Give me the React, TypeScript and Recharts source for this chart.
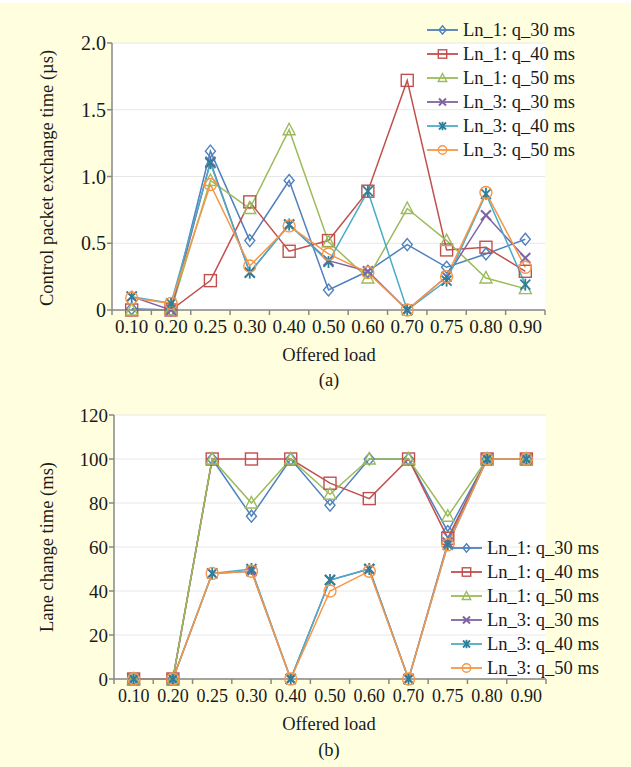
import { LineChart, Line, XAxis, YAxis, CartesianGrid } from 'recharts';

const LOADS = ['0.10', '0.20', '0.25', '0.30', '0.40', '0.50', '0.60', '0.70', '0.75', '0.80', '0.90'];

const SERIES_NAMES = ['Ln_1: q_30 ms', 'Ln_1: q_40 ms', 'Ln_1: q_50 ms', 'Ln_3: q_30 ms', 'Ln_3: q_40 ms', 'Ln_3: q_50 ms'];
const COLORS = ['#4F81BD', '#C0504D', '#9BBB59', '#8064A2', '#4BACC6', '#F79646'];
const MARKERS = ['diamond', 'square', 'triangle', 'cross', 'star', 'circle'];

// (a) control packet exchange time (µs)
const ctrlLn1Q30 = [0.01, 0.0, 1.19, 0.52, 0.97, 0.15, 0.29, 0.49, 0.32, 0.42, 0.53];
const ctrlLn1Q40 = [0.0, 0.0, 0.22, 0.81, 0.44, 0.52, 0.89, 1.72, 0.45, 0.47, 0.29];
const ctrlLn1Q50 = [0.0, 0.0, 0.97, 0.76, 1.35, 0.51, 0.24, 0.76, 0.52, 0.24, 0.16];
const ctrlLn3Q30 = [0.1, 0.0, 1.11, 0.28, 0.64, 0.37, 0.29, 0.0, 0.25, 0.71, 0.39];
const ctrlLn3Q40 = [0.1, 0.05, 1.1, 0.28, 0.64, 0.36, 0.89, 0.0, 0.22, 0.87, 0.19];
const ctrlLn3Q50 = [0.09, 0.05, 0.94, 0.33, 0.63, 0.42, 0.28, 0.0, 0.25, 0.88, 0.32];
const CTRL_TICKS = [0, 0.5, 1.0, 1.5, 2.0];

// (b) lane change time (ms)
const laneLn1Q30 = [0, 0, 100, 74, 100, 79, 100, 100, 67, 100, 100];
const laneLn1Q40 = [0, 0, 100, 100, 100, 89, 82, 100, 64, 100, 100];
const laneLn1Q50 = [0, 0, 100, 80, 100, 84, 100, 100, 74, 100, 100];
const laneLn3Q30 = [0, 0, 48, 49, 0, 45, 50, 0, 62, 100, 100];
const laneLn3Q40 = [0, 0, 48, 50, 0, 45, 50, 0, 61, 100, 100];
const laneLn3Q50 = [0, 0, 48, 49, 0, 40, 49, 0, 61, 100, 100];
const LANE_TICKS = [0, 20, 40, 60, 80, 100, 120];

const FONT = '"Liberation Serif", "Times New Roman", serif';
const AXIS_COLOR = '#888888';

function buildRows(series: number[][]) {
  return LOADS.map((load, i) => {
    const row: Record<string, number | string> = { i, load };
    series.forEach((s, k) => {
      row['s' + k] = s[i];
    });
    return row;
  });
}

const ctrlData = buildRows([ctrlLn1Q30, ctrlLn1Q40, ctrlLn1Q50, ctrlLn3Q30, ctrlLn3Q40, ctrlLn3Q50]);
const laneData = buildRows([laneLn1Q30, laneLn1Q40, laneLn1Q50, laneLn3Q30, laneLn3Q40, laneLn3Q50]);

// category centres get labels, band edges get tick marks
const X_TICKS = LOADS.flatMap((_, i) => [i - 0.5, i]).concat(LOADS.length - 0.5);

function Marker({ type, cx, cy, color, s = 1 }: { type: string; cx: number; cy: number; color: string; s?: number }) {
  const common = { stroke: color, strokeWidth: 1.4, fill: 'none' };
  if (type === 'diamond') {
    return <path d={`M${cx},${cy - 6 * s} L${cx + 5 * s},${cy} L${cx},${cy + 6 * s} L${cx - 5 * s},${cy} Z`} {...common} />;
  }
  if (type === 'square') {
    return <rect x={cx - 6 * s} y={cy - 6 * s} width={12 * s} height={12 * s} {...common} />;
  }
  if (type === 'triangle') {
    return <path d={`M${cx},${cy - 6.5 * s} L${cx + 6 * s},${cy + 5 * s} L${cx - 6 * s},${cy + 5 * s} Z`} {...common} />;
  }
  if (type === 'cross') {
    return (
      <g {...common} strokeWidth={2}>
        <line x1={cx - 5 * s} y1={cy - 5 * s} x2={cx + 5 * s} y2={cy + 5 * s} />
        <line x1={cx - 5 * s} y1={cy + 5 * s} x2={cx + 5 * s} y2={cy - 5 * s} />
      </g>
    );
  }
  if (type === 'star') {
    return (
      <g {...common} stroke="#2E7F98" strokeWidth={1.8}>
        <line x1={cx - 5 * s} y1={cy - 5 * s} x2={cx + 5 * s} y2={cy + 5 * s} />
        <line x1={cx - 5 * s} y1={cy + 5 * s} x2={cx + 5 * s} y2={cy - 5 * s} />
        <line x1={cx} y1={cy - 6 * s} x2={cx} y2={cy + 6 * s} />
      </g>
    );
  }
  return <circle cx={cx} cy={cy} r={6 * s} {...common} />;
}

function makeXTick(axisY: number, fontSize: number) {
  return (props: any) => {
    const { x, payload } = props;
    const v = payload.value;
    if (Number.isInteger(v)) {
      return (
        <text x={x} y={axisY + 23} textAnchor="middle" fontSize={fontSize} fontFamily={FONT} fill="#1a1a1a">
          {LOADS[v]}
        </text>
      );
    }
    return <line x1={x} y1={axisY} x2={x} y2={axisY + 5} stroke={AXIS_COLOR} strokeWidth={1.5} />;
  };
}

function SeriesLegend({ left, top }: { left: number; top: number }) {
  return (
    <div style={{ position: 'absolute', left, top, fontFamily: FONT, fontSize: 18.5, color: '#1a1a1a' }}>
      {SERIES_NAMES.map((name, k) => (
        <div key={name} style={{ display: 'flex', alignItems: 'center', height: 24, whiteSpace: 'nowrap' }}>
          <svg width={36} height={24} style={{ display: 'block' }}>
            <line x1={0} y1={12} x2={31} y2={12} stroke={COLORS[k]} strokeWidth={1.8} />
            <Marker type={MARKERS[k]} cx={15.5} cy={12} color={COLORS[k]} s={0.7} />
          </svg>
          <span>{name}</span>
        </div>
      ))}
    </div>
  );
}

function Caption({ x, y, text, rotate = false }: { x: number; y: number; text: string; rotate?: boolean }) {
  return (
    <div
      style={{
        position: 'absolute',
        left: x,
        top: y,
        transform: `translate(-50%, -50%)${rotate ? ' rotate(-90deg)' : ''}`,
        fontFamily: FONT,
        fontSize: 18.5,
        color: '#1a1a1a',
        whiteSpace: 'nowrap',
      }}
    >
      {text}
    </div>
  );
}

function Panel({
  data,
  top,
  plotTop,
  plotBottom,
  plotLeft,
  plotRight,
  domain,
  ticks,
  fmt,
  yFont,
  xFont,
}: {
  data: Record<string, number | string>[];
  top: number;
  plotTop: number;
  plotBottom: number;
  plotLeft: number;
  plotRight: number;
  domain: [number, number];
  ticks: number[];
  fmt: (v: number) => string;
  yFont: number;
  xFont: number;
}) {
  const height = plotBottom + 30;
  return (
    <div style={{ position: 'absolute', left: 0, top }}>
      <LineChart
        width={631}
        height={height}
        data={data}
        margin={{ top: plotTop, right: 631 - plotRight, left: 0, bottom: 0 }}
      >
        <CartesianGrid vertical={false} stroke="#E8E8E8" fill="#ffffff" />
        <XAxis
          type="number"
          dataKey="i"
          domain={[-0.5, LOADS.length - 0.5]}
          ticks={X_TICKS}
          interval={0}
          height={30}
          tickLine={false}
          axisLine={{ stroke: AXIS_COLOR, strokeWidth: 1.5 }}
          tick={makeXTick(plotBottom, xFont)}
        />
        <YAxis
          type="number"
          domain={domain}
          ticks={ticks}
          width={plotLeft}
          tickSize={5}
          tickMargin={1}
          tickFormatter={fmt}
          tickLine={{ stroke: AXIS_COLOR, strokeWidth: 1.5 }}
          axisLine={{ stroke: AXIS_COLOR, strokeWidth: 1.5 }}
          tick={{ fontSize: yFont, fontFamily: FONT, fill: '#1a1a1a' }}
        />
        {SERIES_NAMES.map((name, k) => (
          <Line
            key={name}
            name={name}
            dataKey={'s' + k}
            stroke={COLORS[k]}
            strokeWidth={1.5}
            isAnimationActive={false}
            dot={(p: any) => <Marker key={name + p.index} type={MARKERS[k]} cx={p.cx} cy={p.cy} color={COLORS[k]} />}
            activeDot={false}
          />
        ))}
      </LineChart>
    </div>
  );
}

export default function App() {
  return (
    <div style={{ position: 'fixed', left: 0, top: 0, width: 631, height: 767, background: '#FFFFFF', overflow: 'hidden' }}>
      <div style={{ position: 'absolute', left: 0, top: 3, width: 631, height: 764, background: '#FFFFE0' }} />

      <Panel
        data={ctrlData}
        top={0}
        plotTop={43}
        plotBottom={310}
        plotLeft={112}
        plotRight={545}
        domain={[0, 2]}
        ticks={CTRL_TICKS}
        fmt={(v) => (v === 0 ? '0' : v.toFixed(1))}
        yFont={20}
        xFont={19}
      />
      <SeriesLegend left={427} top={18} />
      <Caption x={47} y={178} text="Control packet exchange time (µs)" rotate />
      <Caption x={329} y={355} text="Offered load" />
      <Caption x={329} y={380} text="(a)" />

      <Panel
        data={laneData}
        top={372}
        plotTop={43}
        plotBottom={307}
        plotLeft={114}
        plotRight={546}
        domain={[0, 120]}
        ticks={LANE_TICKS}
        fmt={(v) => String(v)}
        yFont={19}
        xFont={18}
      />
      <SeriesLegend left={451} top={536} />
      <Caption x={47} y={547} text="Lane change time (ms)" rotate />
      <Caption x={329} y={724} text="Offered load" />
      <Caption x={329} y={750} text="(b)" />
    </div>
  );
}
